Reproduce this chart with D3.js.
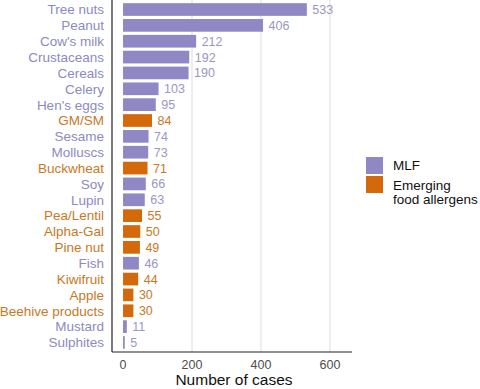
<!DOCTYPE html>
<html>
<head>
<meta charset="utf-8">
<script src="https://cdn.jsdelivr.net/npm/d3@7"></script>
<style>
  body { margin: 0; background: #fff; }
  text { font-family: "Liberation Sans", Arial, sans-serif; }
</style>
</head>
<body>
<svg id="chart" width="480" height="389"></svg>
<script>
// allergens, top to bottom
const allergens = ["Tree nuts", "Peanut", "Cow's milk", "Crustaceans", "Cereals", "Celery",
  "Hen's eggs", "GM/SM", "Sesame", "Molluscs", "Buckwheat", "Soy", "Lupin", "Pea/Lentil",
  "Alpha-Gal", "Pine nut", "Fish", "Kiwifruit", "Apple", "Beehive products", "Mustard", "Sulphites"];
const cases = [533, 406, 212, 192, 190, 103, 95, 84, 74, 73, 71, 66, 63, 55, 50, 49, 46, 44, 30, 30, 11, 5];
const groups = ["MLF", "MLF", "MLF", "MLF", "MLF", "MLF", "MLF", "E", "MLF", "MLF", "E", "MLF", "MLF",
  "E", "E", "E", "MLF", "E", "E", "E", "MLF", "MLF"];
const xTicks = [0, 200, 400, 600];

const barColor = { MLF: "#9088c4", E: "#d4690c" };
const labelColor = { MLF: "#8d89c2", E: "#c9781e" };
const valueColor = { MLF: "#9b97c2", E: "#c9781e" };

const data = allergens.map((name, i) => ({ name, n: cases[i], g: groups[i] }));

const mLeft = 112, mRight = 352, mTop = 0, mBottom = 352;
const svg = d3.select("#chart");

const x = d3.scaleLinear().domain([-32, 664]).range([mLeft, mRight]);
const y = d3.scaleBand().domain(allergens).range([mTop, mBottom]).paddingInner(0.2).paddingOuter(0.2);

// grid
svg.append("g").selectAll("line").data(xTicks.slice(1)).join("line")
  .attr("x1", d => x(d)).attr("x2", d => x(d))
  .attr("y1", mTop).attr("y2", mBottom)
  .attr("stroke", "#dcdcdc").attr("stroke-width", 1);

// bars
svg.append("g").selectAll("rect").data(data).join("rect")
  .attr("x", x(0))
  .attr("y", d => y(d.name))
  .attr("width", d => x(d.n) - x(0))
  .attr("height", y.bandwidth())
  .attr("fill", d => barColor[d.g]);

// value labels
svg.append("g").selectAll("text").data(data).join("text")
  .attr("x", d => x(d.n) + 5.5)
  .attr("y", d => y(d.name) + y.bandwidth() / 2)
  .attr("dy", "0.36em")
  .attr("font-size", 12.5)
  .attr("fill", d => valueColor[d.g])
  .text(d => d.n);

// category labels
svg.append("g").selectAll("text").data(data).join("text")
  .attr("x", mLeft - 8)
  .attr("y", d => y(d.name) + y.bandwidth() / 2)
  .attr("dy", "0.36em")
  .attr("text-anchor", "end")
  .attr("font-size", 13.5)
  .attr("fill", d => labelColor[d.g])
  .text(d => d.name);

// axis lines
svg.append("line").attr("x1", mLeft).attr("x2", mLeft).attr("y1", mTop).attr("y2", mBottom)
  .attr("stroke", "#222").attr("stroke-width", 1.2);
svg.append("line").attr("x1", mLeft).attr("x2", mRight).attr("y1", mBottom).attr("y2", mBottom)
  .attr("stroke", "#222").attr("stroke-width", 1.2);

// x tick labels
svg.append("g").selectAll("text").data(xTicks).join("text")
  .attr("x", d => x(d))
  .attr("y", 369)
  .attr("text-anchor", "middle")
  .attr("font-size", 12.5)
  .attr("fill", "#4d4d4d")
  .text(d => d);

svg.append("text")
  .attr("x", (mLeft + mRight) / 2 + 2)
  .attr("y", 385)
  .attr("text-anchor", "middle")
  .attr("font-size", 15.5)
  .attr("fill", "#111")
  .text("Number of cases");

// legend
const legend = svg.append("g").attr("transform", "translate(366,157)");
legend.append("rect").attr("x", 0).attr("y", 0).attr("width", 17).attr("height", 17).attr("fill", barColor.MLF);
legend.append("rect").attr("x", 0).attr("y", 19).attr("width", 17).attr("height", 17).attr("fill", barColor.E);
legend.append("text").attr("x", 27).attr("y", 13).attr("font-size", 13.5).attr("fill", "#111").text("MLF");
legend.append("text").attr("x", 27).attr("y", 33).attr("font-size", 13.5).attr("fill", "#111").text("Emerging");
legend.append("text").attr("x", 27).attr("y", 46.5).attr("font-size", 13.5).attr("fill", "#111").text("food allergens");
</script>
</body>
</html>
